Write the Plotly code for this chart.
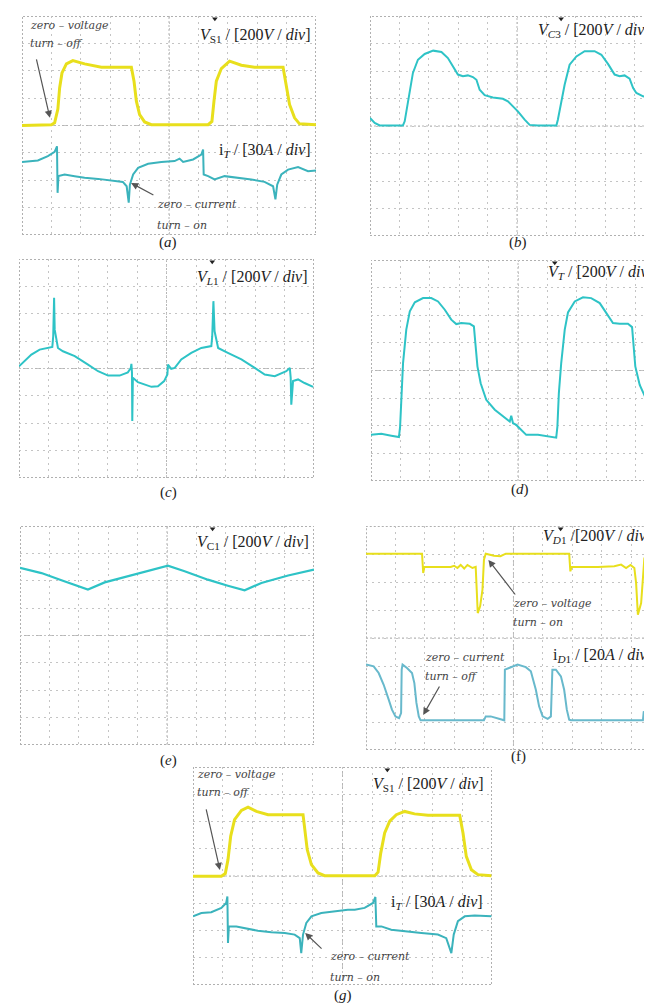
import plotly.graph_objects as go

# ---------------- data (oscilloscope divisions: x 0..10, y 0..8) ----------------
# (a) V_S1 and i_T
a_vs1_x = [0, 1.0, 1.11, 1.22, 1.28, 1.36, 1.51, 1.73, 2.13, 2.70, 3.72, 3.81, 3.89, 4.0, 4.17, 4.40,
           6.33, 6.46, 6.53, 6.61, 6.78, 7.06, 7.46, 7.91, 8.88, 8.99, 9.10, 9.27, 9.44, 10]
a_vs1_y = [4.0, 4.03, 4.1, 4.6, 5.37, 5.92, 6.25, 6.37, 6.25, 6.13, 6.13, 5.62, 4.89, 4.40, 4.13, 4.03,
           4.03, 4.15, 4.89, 5.62, 6.08, 6.35, 6.2, 6.13, 6.13, 5.5, 4.77, 4.28, 4.06, 4.03]
a_it_x = [0, 0.54, 0.88, 1.11, 1.19, 1.21, 1.24, 1.45, 1.79, 2.13, 2.59, 3.04, 3.43, 3.56, 3.63, 3.67,
          3.78, 3.95, 4.29, 4.74, 5.19, 5.36, 5.48, 5.82, 6.10, 6.16, 6.18, 6.33, 6.55, 6.89, 7.35,
          7.80, 8.25, 8.54, 8.62, 8.68, 8.82, 9.05, 9.39, 9.73, 10]
a_it_y = [2.67, 2.72, 2.88, 3.04, 3.24, 1.54, 2.15, 2.21, 2.15, 2.09, 2.05, 2.0, 1.94, 1.78, 1.18, 1.84,
          2.21, 2.45, 2.60, 2.67, 2.70, 2.79, 2.67, 2.76, 2.94, 3.12, 2.21, 2.15, 2.03, 2.15, 2.09,
          2.03, 1.94, 1.78, 1.30, 1.84, 2.21, 2.39, 2.48, 2.33, 2.36]

# (b) V_C3
b_vc3_x = [0, 0.16, 0.33, 1.12, 1.18, 1.24, 1.35, 1.46, 1.63, 1.86, 2.15, 2.43, 2.65, 2.82, 2.99, 3.16,
           3.33, 3.50, 3.62, 3.73, 3.90, 4.18, 4.52, 4.69, 5.03, 5.26, 5.43, 5.71, 6.34, 6.39, 6.49,
           6.62, 6.79, 7.02, 7.30, 7.64, 7.87, 8.10, 8.32, 8.49, 8.66, 8.83, 8.95, 9.06, 9.29, 9.63, 9.86]
b_vc3_y = [4.29, 4.11, 4.02, 4.02, 4.17, 4.53, 5.26, 5.93, 6.41, 6.62, 6.74, 6.69, 6.47, 6.17, 5.87, 5.81,
           5.84, 5.78, 5.68, 5.32, 5.12, 5.04, 4.99, 4.90, 4.53, 4.23, 4.04, 4.02, 4.02, 4.23, 4.78,
           5.50, 6.23, 6.53, 6.72, 6.72, 6.59, 6.25, 5.87, 5.81, 5.84, 5.72, 5.38, 5.20, 5.08, 4.99, 4.92]

# (c) V_L1
c_vl1_x = [0, 0.19, 0.42, 0.70, 0.98, 1.13, 1.16, 1.19, 1.21, 1.27, 1.32, 1.49, 1.89, 2.34, 2.68, 3.02,
           3.41, 3.69, 3.79, 3.81, 3.83, 3.84, 3.86, 4.03, 4.26, 4.49, 4.71, 4.92, 5.03, 5.05, 5.16,
           5.28, 5.50, 5.84, 6.18, 6.52, 6.55, 6.59, 6.63, 6.75, 7.08, 7.54, 7.99, 8.33, 8.67, 9.06,
           9.18, 9.21, 9.23, 9.29, 9.46, 9.68, 9.97]
c_vl1_y = [4.08, 4.27, 4.51, 4.69, 4.75, 4.79, 5.18, 6.58, 5.42, 5.06, 4.75, 4.63, 4.45, 4.14, 3.90, 3.74,
           3.74, 3.86, 4.02, 4.17, 3.84, 2.08, 3.66, 3.50, 3.41, 3.33, 3.35, 3.54, 3.78, 4.14, 3.99,
           4.02, 4.33, 4.57, 4.75, 4.82, 5.18, 6.46, 5.36, 4.75, 4.57, 4.33, 4.02, 3.78, 3.72, 3.90,
           4.02, 3.66, 2.68, 3.54, 3.60, 3.47, 3.33]

# (d) V_T
d_vt_x = [0, 0.35, 0.69, 0.95, 0.99, 1.03, 1.09, 1.20, 1.32, 1.49, 1.77, 2.05, 2.28, 2.51, 2.73, 2.90,
          3.07, 3.36, 3.50, 3.55, 3.62, 3.73, 3.92, 4.21, 4.55, 4.72, 4.77, 4.83, 4.94, 5.11, 5.28,
          5.68, 6.13, 6.30, 6.34, 6.39, 6.47, 6.59, 6.70, 6.93, 7.21, 7.49, 7.78, 8.00, 8.23, 8.46,
          8.74, 8.88, 8.92, 8.99, 9.14, 9.37, 9.59, 9.83]
d_vt_y = [1.67, 1.71, 1.64, 1.59, 1.97, 3.18, 4.27, 5.48, 6.14, 6.47, 6.62, 6.62, 6.50, 6.20, 5.84, 5.68,
          5.72, 5.69, 5.60, 4.99, 4.15, 3.54, 2.94, 2.58, 2.28, 2.15, 2.36, 2.09, 2.03, 1.85, 1.67,
          1.67, 1.61, 1.57, 1.97, 3.18, 4.27, 5.48, 6.10, 6.50, 6.65, 6.62, 6.44, 6.08, 5.72, 5.69,
          5.69, 5.57, 4.99, 4.15, 3.48, 2.94, 2.52, 2.28]

# (e) V_C1
e_vc1_x = [0, 0.73, 1.41, 1.97, 2.31, 2.88, 3.56, 4.35, 5.03, 5.60, 6.39, 7.07, 7.64, 8.21, 9.12, 10]
e_vc1_y = [6.47, 6.28, 6.02, 5.82, 5.68, 5.94, 6.14, 6.35, 6.55, 6.35, 6.04, 5.82, 5.65, 5.92, 6.19, 6.41]

# (f) V_D1 and i_D1
f_vd1_x = [0, 1.90, 1.94, 1.98, 2.41, 2.87, 2.99, 3.10, 3.21, 3.33, 3.44, 3.61, 3.72, 3.75, 3.79, 3.87,
           3.95, 4.0, 4.06, 4.34, 4.56, 4.74, 6.89, 6.93, 6.97, 7.86, 8.42, 8.65, 8.82, 8.97, 9.10,
           9.16, 9.22, 9.33, 9.39, 9.44, 9.56, 9.97]
f_vd1_y = [7.01, 7.01, 6.32, 6.54, 6.54, 6.54, 6.58, 6.50, 6.61, 6.48, 6.61, 6.50, 6.54, 5.85, 4.89, 5.13,
           5.73, 6.80, 7.01, 6.94, 6.92, 7.01, 7.01, 6.38, 6.54, 6.54, 6.56, 6.62, 6.50, 6.61, 6.50,
           5.96, 4.83, 5.25, 6.08, 6.85, 6.96, 7.01]
f_id1_x = [0, 0.26, 0.43, 0.60, 0.77, 0.88, 1.0, 1.12, 1.19, 1.21, 1.24, 1.39, 1.56, 1.64, 1.71, 1.79,
           1.85, 2.41, 4.0, 4.06, 4.23, 4.69, 4.71, 4.85, 5.14, 5.42, 5.59, 5.76, 5.87, 5.99, 6.16,
           6.27, 6.32, 6.44, 6.61, 6.72, 6.81, 6.89, 6.95, 9.39, 9.42, 9.56, 9.97]
f_id1_y = [3.05, 2.99, 2.75, 2.33, 1.80, 1.44, 1.20, 1.14, 1.32, 2.87, 3.05, 2.93, 2.75, 2.39, 1.68, 1.20,
           1.06, 1.06, 1.06, 1.20, 1.20, 1.06, 2.87, 2.93, 3.05, 2.96, 2.81, 2.15, 1.56, 1.20, 1.11,
           1.20, 2.87, 2.87, 2.63, 2.15, 1.44, 1.08, 1.06, 1.06, 1.38, 1.20, 1.06]

# (g) V_S1 and i_T
g_vs1_x = [0, 0.95, 1.08, 1.17, 1.26, 1.39, 1.62, 1.84, 2.12, 2.51, 3.68, 3.74, 3.82, 3.96, 4.18, 4.40,
           6.08, 6.19, 6.28, 6.41, 6.58, 6.80, 7.08, 7.41, 7.86, 8.92, 9.03, 9.14, 9.31, 9.53, 9.98]
g_vs1_y = [3.99, 3.99, 4.09, 4.60, 5.46, 6.07, 6.41, 6.53, 6.37, 6.25, 6.25, 5.70, 4.97, 4.42, 4.11, 4.01,
           4.01, 4.14, 4.85, 5.58, 6.01, 6.25, 6.37, 6.28, 6.23, 6.23, 5.58, 4.72, 4.23, 4.05, 4.01]
g_it_x = [0, 0.28, 0.61, 0.95, 1.11, 1.15, 1.17, 1.20, 1.45, 1.78, 2.17, 2.62, 3.07, 3.40, 3.57, 3.62,
          3.68, 3.79, 3.96, 4.29, 4.74, 5.18, 5.41, 5.74, 6.02, 6.10, 6.13, 6.30, 6.63, 7.08, 7.64,
          8.19, 8.47, 8.64, 8.72, 8.86, 9.09, 9.42, 9.98]
g_it_y = [2.52, 2.64, 2.67, 2.83, 3.01, 3.25, 1.54, 2.15, 2.15, 2.07, 1.99, 1.94, 1.91, 1.85, 1.72, 1.17,
          1.85, 2.28, 2.52, 2.64, 2.70, 2.76, 2.76, 2.83, 3.01, 3.23, 2.15, 2.15, 2.03, 1.97, 1.91,
          1.85, 1.72, 1.17, 1.85, 2.34, 2.52, 2.55, 2.52]

# trigger-position markers (x in divisions, on top edge) per panel
trig_pos = {"a": 6.56, "b": 6.5, "c": 6.55, "d": 6.25, "e": 6.55, "f": 6.6, "g": 6.5}

# ---------------- layout helpers ----------------
W, H = 652, 1003
YEL = "#E8DF1C"
CYA = "#2EC3C6"
TEAL = "#3BB3BC"
LBLUE = "#68B9CC"
GRID = "#c4c4c4"
FRAME = "#b0b0b0"
SERIF = "Liberation Serif, Times New Roman, serif"
NOTEF = "DejaVu Serif, serif"

# panel: (left px, right px, top px, bottom px, x range max)
panels = {
    "a": (14, 308, 8, 227, 10),
    "b": (362, 652, 8, 228, 9.864),
    "c": (11, 306, 251, 470, 10),
    "d": (363, 652, 252, 473, 9.83),
    "e": (12, 306, 518, 737, 10),
    "f": (358, 652, 518, 742, 9.97),
    "g": (185, 484, 759, 977, 10),
}
order = ["a", "b", "c", "d", "e", "f", "g"]

fig = go.Figure()
layout = dict(width=W, height=H, margin=dict(l=0, r=0, t=0, b=0),
              paper_bgcolor="white", plot_bgcolor="white", showlegend=False)
shapes = []
annots = []

def axname(i):
    return ("", "") if i == 0 else (str(i + 1), str(i + 1))

for i, p in enumerate(order):
    l, r, t, b, xmax = panels[p]
    sx, sy = axname(i)
    layout["xaxis" + sx] = dict(domain=[l / W, r / W], range=[0, xmax], dtick=1, tick0=0,
                               showgrid=True, gridcolor=GRID, griddash="2px,4px", gridwidth=1,
                               zeroline=False, showticklabels=False, ticks="", showline=False,
                               anchor="y" + sy, fixedrange=True)
    layout["yaxis" + sy] = dict(domain=[1 - b / H, 1 - t / H], range=[0, 8], dtick=1, tick0=0,
                               showgrid=True, gridcolor=GRID, griddash="2px,4px", gridwidth=1,
                               zeroline=False, showticklabels=False, ticks="", showline=False,
                               anchor="x" + sx, fixedrange=True)
    xr, yr = "x" + sx, "y" + sy
    shapes.append(dict(type="rect", xref=xr, yref=yr, x0=0, x1=10, y0=0, y1=8,
                       line=dict(color=FRAME, width=2, dash="2px,2px"), layer="below"))
    shapes.append(dict(type="line", xref=xr, yref=yr, x0=5, x1=5, y0=0, y1=8,
                       line=dict(color="#b5b5b5", width=1, dash="2px,2px"), layer="below"))
    shapes.append(dict(type="line", xref=xr, yref=yr, x0=0, x1=10, y0=4, y1=4,
                       line=dict(color="#b5b5b5", width=1, dash="2px,2px"), layer="below"))

def ref(p):
    i = order.index(p)
    sx, sy = axname(i)
    return "x" + sx, "y" + sy

def line(p, x, y, color, width):
    xr, yr = ref(p)
    fig.add_trace(go.Scatter(x=x, y=y, mode="lines", line=dict(color=color, width=width),
                             xaxis=xr, yaxis=yr, hoverinfo="skip"))

line("a", a_vs1_x, a_vs1_y, YEL, 3)
line("a", a_it_x, a_it_y, TEAL, 2)
line("b", b_vc3_x, b_vc3_y, CYA, 2)
line("c", c_vl1_x, c_vl1_y, CYA, 2)
line("d", d_vt_x, d_vt_y, CYA, 2)
line("e", e_vc1_x, e_vc1_y, CYA, 2.2)
line("f", f_vd1_x, f_vd1_y, YEL, 2)
line("f", f_id1_x, f_id1_y, LBLUE, 2)
line("g", g_vs1_x, g_vs1_y, YEL, 3)
line("g", g_it_x, g_it_y, TEAL, 2)

for p in order:
    xr, yr = ref(p)
    fig.add_trace(go.Scatter(x=[trig_pos[p]], y=[7.9], mode="markers",
                             marker=dict(symbol="triangle-down", size=5, color="#222"),
                             xaxis=xr, yaxis=yr, hoverinfo="skip", cliponaxis=False))

def label(p, x, y, text, xanchor="right", size=16):
    xr, yr = ref(p)
    annots.append(dict(xref=xr, yref=yr, x=x, y=y, text=text, showarrow=False,
                       xanchor=xanchor, yanchor="middle",
                       font=dict(family=SERIF, size=size, color="#222")))

def note(p, x, y, text):
    xr, yr = ref(p)
    annots.append(dict(xref=xr, yref=yr, x=x, y=y, text="<i>" + text + "</i>", showarrow=False,
                       xanchor="left", yanchor="middle",
                       font=dict(family=NOTEF, size=11, color="#444")))

def arrow(p, hx, hy, tx, ty):
    xr, yr = ref(p)
    annots.append(dict(xref=xr, yref=yr, x=hx, y=hy, ax=tx, ay=ty, axref=xr, ayref=yr,
                       text="", showarrow=True, arrowhead=2, arrowsize=1.2, arrowwidth=1.2,
                       arrowcolor="#555"))

VS1 = "<i>V</i><sub>S1</sub> / [200<i>V</i> / <i>div</i>]"
IT = "i<sub><i>T</i></sub> / [30<i>A</i> / <i>div</i>]"

# (a)
label("a", 9.9, 7.3, VS1)
label("a", 9.9, 3.07, IT)
note("a", 0.2, 7.67, "zero – voltage")
note("a", 0.2, 7.01, "turn – off")
arrow("a", 0.95, 4.28, 0.48, 6.47)
note("a", 4.52, 1.1, "zero – current")
note("a", 4.52, 0.34, "turn – on")
arrow("a", 3.71, 1.9, 4.52, 1.43)
# (b)
label("b", 5.65, 7.49, "<i>V</i><sub><i>C</i>3</sub> / [200<i>V</i> / <i>div</i>]", xanchor="left")
# (c)
label("c", 9.86, 7.31, "<i>V</i><sub><i>L</i>1</sub> / [200<i>V</i> / <i>div</i>]")
# (d)
label("d", 5.95, 7.53, "<i>V</i><sub><i>T</i></sub> / [200<i>V</i> / <i>div</i>]", xanchor="left")
# (e)
label("e", 9.9, 7.38, "<i>V</i><sub>C1</sub> / [200<i>V</i> / <i>div</i>]")
# (f)
label("f", 5.95, 7.64, "<i>V</i><sub><i>D</i>1</sub> /[200<i>V</i> / <i>div</i>]", xanchor="left")
label("f", 6.29, 3.36, "i<sub><i>D</i>1</sub> / [20<i>A</i> / <i>div</i>]", xanchor="left")
note("f", 4.93, 5.25, "zero – voltage")
note("f", 4.93, 4.54, "turn – on")
arrow("f", 4.15, 6.79, 5.10, 5.5)
note("f", 1.94, 3.32, "zero – current")
note("f", 1.94, 2.61, "turn – off")
arrow("f", 1.94, 1.25, 2.52, 2.32)
# (g)
label("g", 9.8, 7.34, VS1)
label("g", 9.77, 3.01, IT)
note("g", 0.07, 7.71, "zero – voltage")
note("g", 0.07, 7.05, "turn – off")
arrow("g", 0.90, 4.22, 0.43, 6.5)
note("g", 4.52, 1.06, "zero – current")
note("g", 4.52, 0.26, "turn – on")
arrow("g", 3.75, 1.91, 4.35, 1.28)

# captions (px positions of text centre)
captions = [("(<i>a</i>)", 160, 235), ("(<i>b</i>)", 510, 235), ("(<i>c</i>)", 160, 484),
            ("(<i>d</i>)", 512, 481), ("(<i>e</i>)", 160, 752), ("(f)", 510, 748),
            ("(<i>g</i>)", 335, 987)]
for txt, px, py in captions:
    annots.append(dict(xref="paper", yref="paper", x=px / W, y=1 - py / H, text=txt,
                       showarrow=False, xanchor="center", yanchor="middle",
                       font=dict(family=SERIF, size=15, color="#222")))

layout["shapes"] = shapes
layout["annotations"] = annots
fig.update_layout(**layout)
fig.write_html("out.html")
